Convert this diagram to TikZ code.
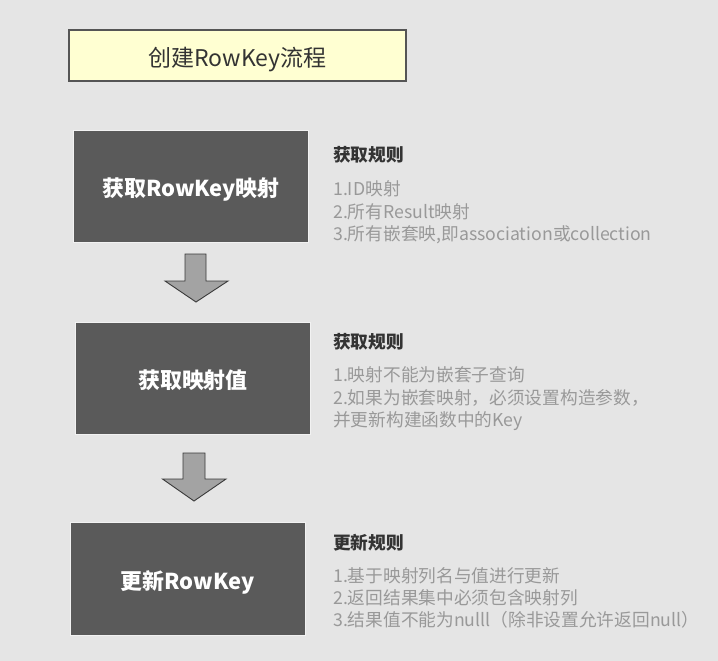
\documentclass[tikz,border=0pt]{standalone}
\usepackage{fontspec}
\setmainfont{Noto Sans CJK SC}
\definecolor{bg}{HTML}{E5E5E5}
\definecolor{titlefill}{HTML}{FFFFD2}
\definecolor{titleline}{HTML}{555555}
\definecolor{boxfill}{HTML}{5A5A5A}
\definecolor{boxline}{HTML}{F2F2F2}
\definecolor{arrowfill}{HTML}{A3A3A3}
\definecolor{arrowline}{HTML}{3A3A3A}
\definecolor{headtext}{HTML}{333333}
\definecolor{ruletext}{HTML}{999999}
\tikzset{
  titlebox/.style={draw=titleline, line width=1.3pt, fill=titlefill, minimum width=337pt, minimum height=51pt, inner sep=0pt, font=\fontsize{23}{27}\selectfont, text=headtext, text height=23pt, text depth=0.6pt},
  stepbox/.style={draw=boxline, line width=1pt, fill=boxfill, minimum width=235pt, minimum height=112pt, inner sep=0pt, text=white, font=\fontsize{21.9}{26}\selectfont\bfseries, text height=22pt, text depth=1pt},
  rulehead/.style={anchor=base west, inner sep=0pt, text=headtext, font=\fontsize{17.7}{21}\selectfont\bfseries},
  ruleline/.style={anchor=base west, inner sep=0pt, text=ruletext, font=\fontsize{17.7}{21}\selectfont},
  blockarrow/.style={draw=arrowline, line width=0.9pt, fill=arrowfill, line join=miter}
}
\begin{document}
\begin{tikzpicture}[x=1pt,y=-1pt]
\useasboundingbox[fill=bg] (0,0) rectangle (718,661);
% title
\node[titlebox] (title) at (237.5,55.5) {创建RowKey流程};
% steps
\node[stepbox] (s1) at (191,186) {获取RowKey映射};
\node[stepbox] (s2) at (193,378) {获取映射值};
\node[stepbox, minimum height=113pt] (s3) at (187.5,578.5) {更新RowKey};
% block arrows
\draw[blockarrow] (185,254) -- (206,254) -- (206,281) -- (228,281) -- (196,302) -- (165,281) -- (185,281) -- cycle;
\draw[blockarrow] (183,453) -- (205,453) -- (205,479) -- (226,479) -- (194,501) -- (162.5,479) -- (183,479) -- cycle;
% rules 1
\node[rulehead] (h1) at (333,161.5) {获取规则};
\node[ruleline] (l1a) at (333,195.5) {1.ID映射};
\node[ruleline] (l1b) at (333,218.5) {2.所有Result映射};
\node[ruleline] (l1c) at (333,240.5) {3.所有嵌套映,即association或collection};
% rules 2
\node[rulehead] (h2) at (333,348.5) {获取规则};
\node[ruleline] (l2a) at (333,381.5) {1.映射不能为嵌套子查询};
\node[ruleline] (l2b) at (333,404.5) {2.如果为嵌套映射，必须设置构造参数，};
\node[ruleline] (l2c) at (333,426.5) {并更新构建函数中的Key};
% rules 3
\node[rulehead] (h3) at (333,549.5) {更新规则};
\node[ruleline] (l3a) at (333,582.5) {1.基于映射列名与值进行更新};
\node[ruleline] (l3b) at (333,604.5) {2.返回结果集中必须包含映射列};
\node[ruleline] (l3c) at (333,626.5) {3.结果值不能为nulll（除非设置允许返回null）};
\end{tikzpicture}
\end{document}
